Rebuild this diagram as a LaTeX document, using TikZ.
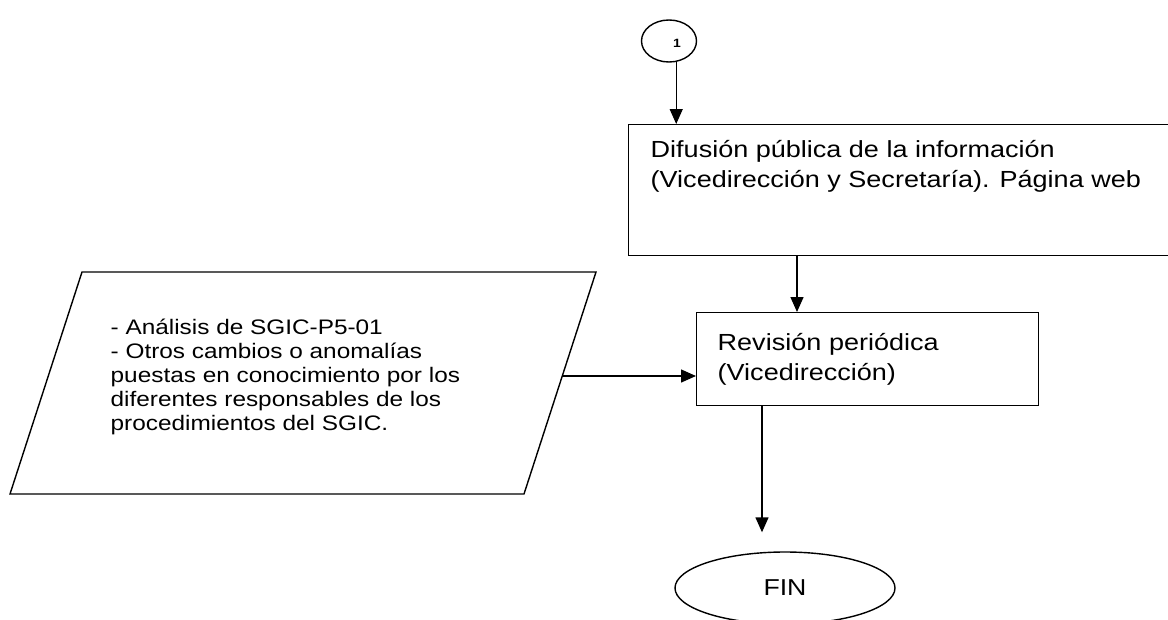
\documentclass[tikz,border=0pt]{standalone}
\usepackage{fontspec}
\setmainfont{Liberation Sans}[FakeStretch=1.16]
\usetikzlibrary{positioning, arrows.meta, shapes.geometric}

\begin{document}
\begin{tikzpicture}[x=1pt, y=-1pt, line width=1.4pt,
        flow/.style={-{Triangle[length=15pt, width=13pt]}},
        boxtext/.style={font=\fontsize{23.3}{30}\selectfont, align=left, inner sep=0pt},
        listtext/.style={font=\fontsize{21}{24}\selectfont, align=left, inner sep=0pt}]
    \useasboundingbox (0,0) rectangle (1168,619);
    \node (conector) [ellipse, draw, minimum width=55pt, minimum height=42pt, inner sep=0pt] at (669,41) {};
    \node (uno) at (677,43) {\fontsize{12}{12}\selectfont\bfseries 1};
    \node (difusion) [draw, minimum width=552pt, minimum height=131pt, anchor=north west] at (628,124) {};
    \node (difusiontxt) [boxtext, anchor=north west] at (650,140) {Difusión pública de la información\\(Vicedirección y Secretaría). Página web};
    \node (revision) [draw, boxtext, anchor=north west, minimum width=342pt, minimum height=93pt,
        text width=300pt, inner xsep=21pt] at (696,312) {Revisión periódica\\(Vicedirección)};
    \node (fin) [ellipse, draw, minimum width=220pt, minimum height=72pt, inner sep=0pt,
        font=\fontsize{23}{23}\selectfont] at (785,588) {FIN};
    \draw (82,272) coordinate (pa) -- (596,272) coordinate (pb) -- (524,494) coordinate (pc) -- (10,494) coordinate (pd) -- cycle;
    \node (entradas) [listtext, anchor=north west] at (110,318) {- Análisis de SGIC-P5-01\\- Otros cambios o anomalías\\puestas en conocimiento por los\\diferentes responsables de los\\procedimientos del SGIC.};
    \coordinate (datos) at (562.3,376);
    \coordinate (entrada) at ([xshift=101pt]revision.north west);
    \coordinate (salida) at ([xshift=66pt]revision.south west);
    \draw[flow] (conector.-71) -- (conector.-71 |- difusion.north);
    \draw[flow] (entrada |- difusion.south) -- (entrada);
    \draw[flow] (datos) -- (datos -| revision.west);
    \draw[flow, shorten >=19pt] (salida) -- (salida |- fin.north);
\end{tikzpicture}
\end{document}
